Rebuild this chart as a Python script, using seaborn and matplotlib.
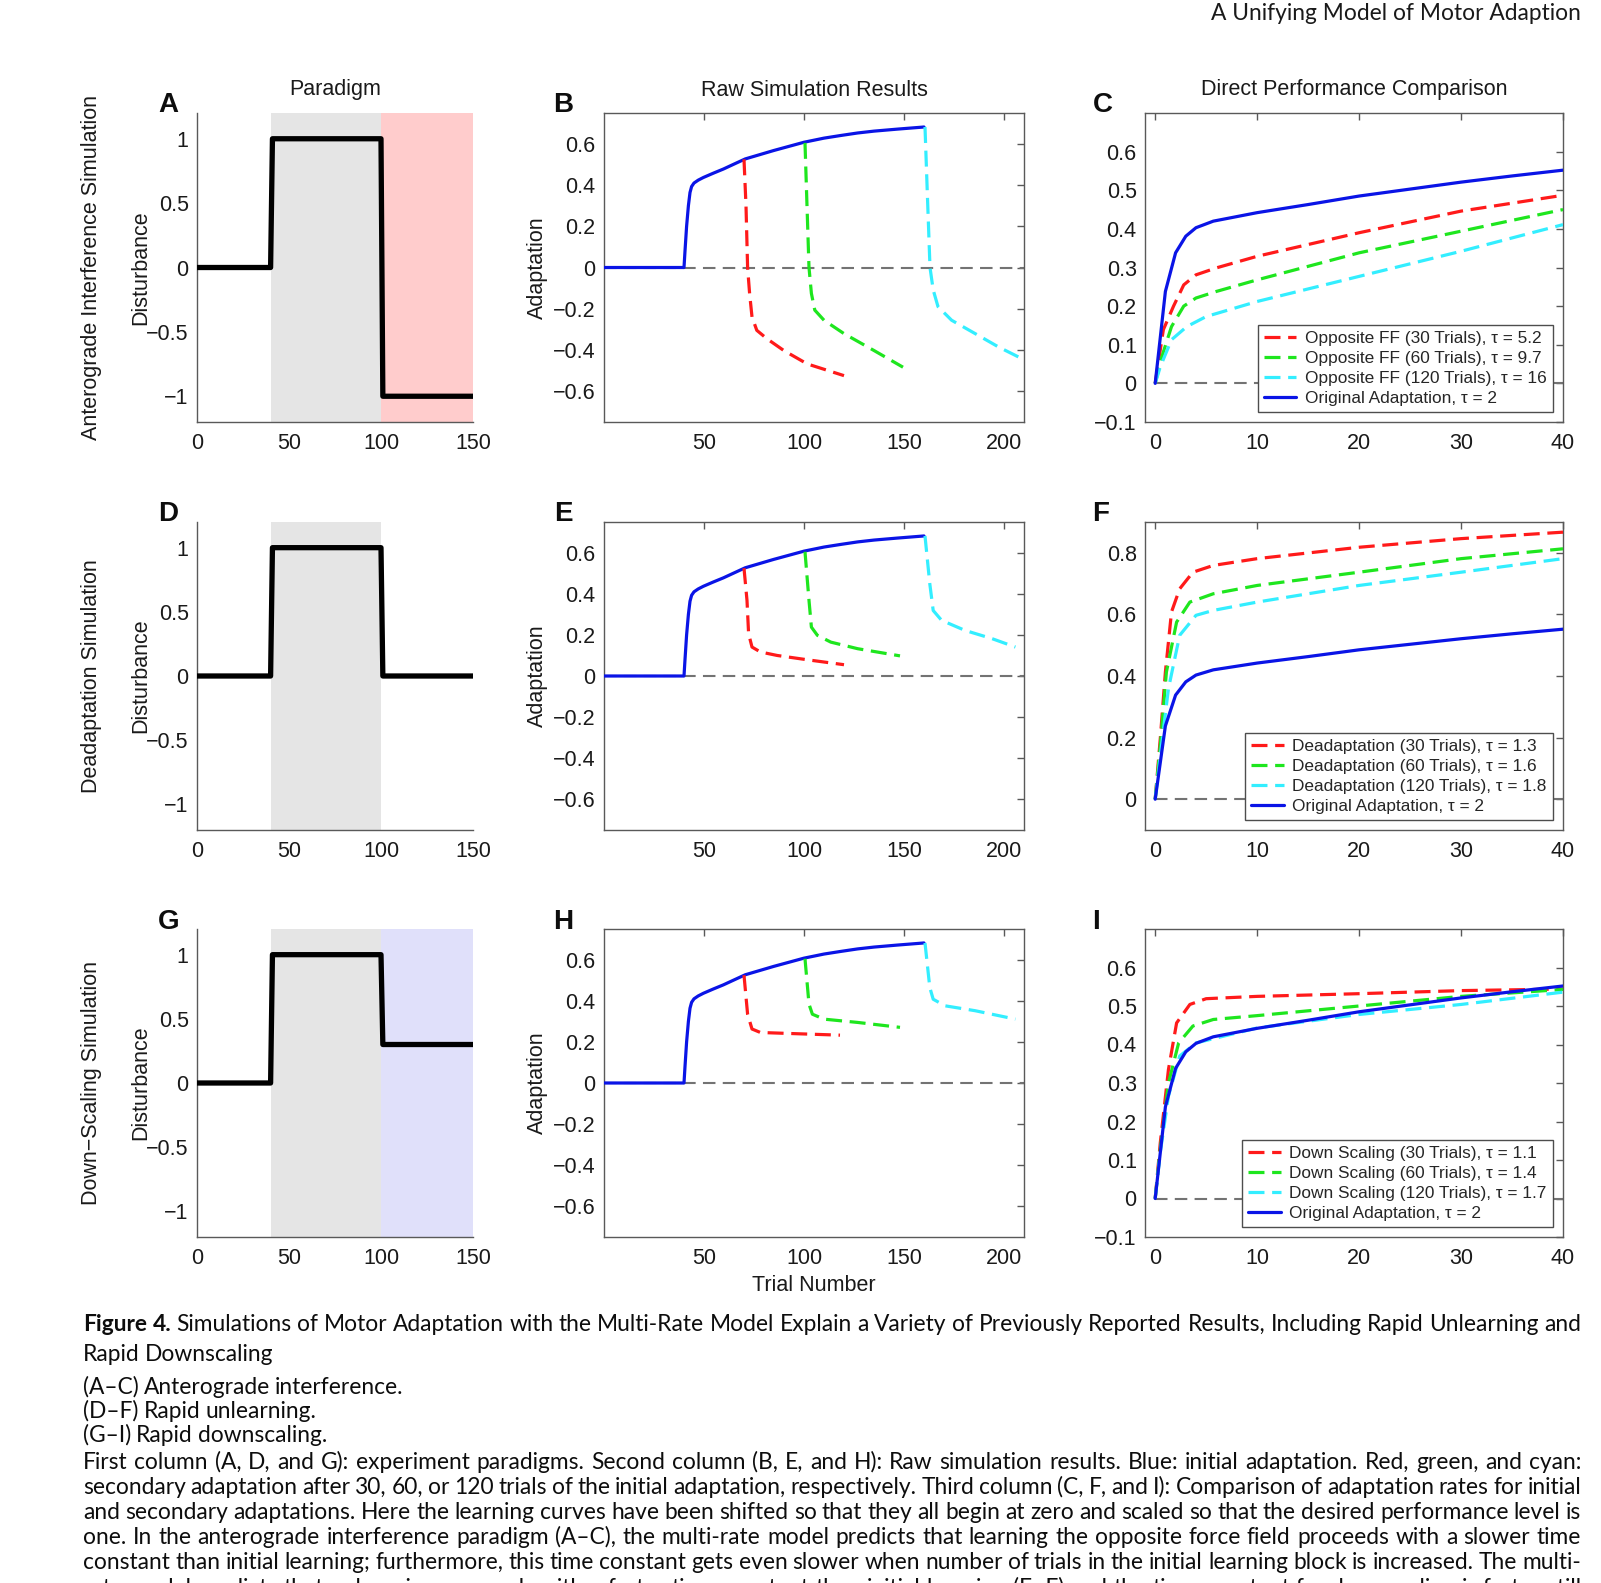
import matplotlib
matplotlib.use("Agg")
import matplotlib.pyplot as plt
import seaborn as sns

# ---- paradigm (column 1): trial vs disturbance ----
para_x = [0, 40, 41, 100, 101, 150]
para_ff = [0, 0, 1, 1, -1, -1]
para_dead = [0, 0, 1, 1, 0, 0]
para_down = [0, 0, 1, 1, 0.3, 0.3]

# ---- raw simulation (column 2) ----
raw_x = [0, 40, 40.5, 41.3, 42.2, 43, 43.8, 45, 47.1, 49.7, 54.7, 59.7, 64.8, 70.6, 84.9,
         100, 110, 118.5, 126.8, 135, 147, 160]
raw_y = [0, 0, 0.08, 0.2, 0.3, 0.364, 0.393, 0.41, 0.424, 0.437, 0.458, 0.478, 0.501, 0.527, 0.568,
         0.608, 0.628, 0.641, 0.653, 0.662, 0.672, 0.682]

ff_red_x = [70, 71, 71.8, 72.8, 74, 76.4, 81.5, 89.9, 101.6, 120]
ff_red_y = [0.525, 0.3, 0, -0.126, -0.24, -0.305, -0.346, -0.403, -0.468, -0.525]
ff_green_x = [100.5, 101.5, 102.5, 103.7, 105.4, 110, 120, 135, 149.5]
ff_green_y = [0.605, 0.3, 0, -0.126, -0.207, -0.256, -0.321, -0.403, -0.484]
ff_cyan_x = [160.5, 161.7, 163, 164.6, 167, 173.8, 185.6, 197.3, 207.4]
ff_cyan_y = [0.682, 0.35, 0, -0.109, -0.19, -0.256, -0.321, -0.386, -0.435]

dead_red_x = [70, 71.5, 72.3, 74, 78.2, 86.6, 101.7, 120]
dead_red_y = [0.525, 0.368, 0.206, 0.141, 0.117, 0.1, 0.079, 0.055]
dead_green_x = [100.5, 102.5, 103.7, 106.7, 113.4, 126.8, 148]
dead_green_y = [0.605, 0.368, 0.238, 0.198, 0.165, 0.133, 0.098]
dead_cyan_x = [160.5, 162.9, 164.6, 168.8, 180.5, 194, 205.7]
dead_cyan_y = [0.682, 0.449, 0.319, 0.271, 0.222, 0.182, 0.141]

down_red_x = [70, 71.8, 74, 78.2, 93.3, 118]
down_red_y = [0.525, 0.335, 0.263, 0.246, 0.241, 0.233]
down_green_x = [100.5, 102.5, 104.2, 110, 126.8, 148]
down_green_y = [0.605, 0.384, 0.335, 0.311, 0.295, 0.271]
down_cyan_x = [160.5, 162.9, 164.6, 170.5, 185.6, 205.7]
down_cyan_y = [0.682, 0.465, 0.408, 0.376, 0.352, 0.311]

# ---- direct comparison (column 3) ----
orig_x = [0, 1, 2, 3, 4, 5.7, 10, 15, 20, 25, 30, 35, 40]
orig_y = [0, 0.238, 0.338, 0.381, 0.403, 0.42, 0.442, 0.463, 0.485, 0.503, 0.521, 0.537, 0.552]

cmp_ff_red_x = [0, 0.8, 1.8, 2.8, 4, 6, 10, 20, 30, 40]
cmp_ff_red_y = [0, 0.139, 0.2, 0.255, 0.281, 0.299, 0.329, 0.39, 0.446, 0.487]
cmp_ff_green_x = [0, 0.65, 1.6, 2.8, 4, 6, 10, 20, 30, 40]
cmp_ff_green_y = [0, 0.069, 0.147, 0.2, 0.221, 0.238, 0.268, 0.338, 0.394, 0.45]
cmp_ff_cyan_x = [0, 0.5, 1.6, 3.1, 5, 10, 20, 30, 40]
cmp_ff_cyan_y = [0, 0.043, 0.113, 0.147, 0.173, 0.212, 0.277, 0.342, 0.411]

cmp_dead_red_x = [0, 0.5, 1, 1.6, 2.4, 3.7, 5.7, 10, 20, 30, 40]
cmp_dead_red_y = [0, 0.197, 0.413, 0.608, 0.683, 0.737, 0.759, 0.781, 0.818, 0.846, 0.867]
cmp_dead_green_x = [0, 0.5, 1.1, 2.1, 3.4, 5.7, 10, 20, 30, 40]
cmp_dead_green_y = [0, 0.175, 0.413, 0.575, 0.64, 0.667, 0.694, 0.737, 0.781, 0.813]
cmp_dead_cyan_x = [0, 0.5, 1.3, 2.4, 4, 5.7, 10, 20, 30, 40]
cmp_dead_cyan_y = [0, 0.143, 0.359, 0.532, 0.597, 0.613, 0.64, 0.694, 0.737, 0.781]

cmp_down_red_x = [0, 0.5, 1.3, 2.1, 3.4, 5, 10, 20, 30, 40]
cmp_down_red_y = [0, 0.145, 0.335, 0.456, 0.504, 0.519, 0.525, 0.532, 0.54, 0.544]
cmp_down_green_x = [0, 0.5, 1.3, 2.3, 3.7, 5.7, 10, 20, 30, 40]
cmp_down_green_y = [0, 0.128, 0.3, 0.404, 0.448, 0.465, 0.475, 0.5, 0.525, 0.543]
cmp_down_cyan_x = [0, 0.5, 1.3, 2.4, 4, 10, 20, 30, 40]
cmp_down_cyan_y = [0, 0.12, 0.266, 0.37, 0.404, 0.443, 0.478, 0.504, 0.536]

ff_labels = ["Opposite FF (30 Trials), \u03c4 = 5.2", "Opposite FF (60 Trials), \u03c4 = 9.7",
             "Opposite FF (120 Trials), \u03c4 = 16", "Original Adaptation, \u03c4 = 2"]
dead_labels = ["Deadaptation (30 Trials), \u03c4 = 1.3", "Deadaptation (60 Trials), \u03c4 = 1.6",
               "Deadaptation (120 Trials), \u03c4 = 1.8", "Original Adaptation, \u03c4 = 2"]
down_labels = ["Down Scaling (30 Trials), \u03c4 = 1.1", "Down Scaling (60 Trials), \u03c4 = 1.4",
               "Down Scaling (120 Trials), \u03c4 = 1.7", "Original Adaptation, \u03c4 = 2"]

row_titles = ["Anterograde Interference Simulation", "Deadaptation Simulation", "Down\u2212Scaling Simulation"]
col_titles = ["Paradigm", "Raw Simulation Results", "Direct Performance Comparison"]
letters = ["A", "B", "C", "D", "E", "F", "G", "H", "I"]

caption_lines = [
    "Simulations of Motor Adaptation with the Multi-Rate Model Explain a Variety of Previously Reported Results, Including Rapid Unlearning and",
    "Rapid Downscaling",
    "(A\u2013C) Anterograde interference.",
    "(D\u2013F) Rapid unlearning.",
    "(G\u2013I) Rapid downscaling.",
    "First column (A, D, and G): experiment paradigms. Second column (B, E, and H): Raw simulation results. Blue: initial adaptation. Red, green, and cyan:",
    "secondary adaptation after 30, 60, or 120 trials of the initial adaptation, respectively. Third column (C, F, and I): Comparison of adaptation rates for initial",
    "and secondary adaptations. Here the learning curves have been shifted so that they all begin at zero and scaled so that the desired performance level is",
    "one. In the anterograde interference paradigm (A\u2013C), the multi-rate model predicts that learning the opposite force field proceeds with a slower time",
    "constant than initial learning; furthermore, this time constant gets even slower when number of trials in the initial learning block is increased. The multi-",
    "rate model predicts that unlearning proceeds with a faster time constant than initial learning (E\u2013F) and the time constant for downscaling is faster still",
]
caption_y = [1324, 1354, 1387, 1411, 1435, 1462, 1487, 1512, 1537, 1562, 1588]
caption_justify = [True, False, False, False, False, True, True, True, True, True, True]

sns.set_theme(style="white")
plt.rcParams["font.family"] = ["Liberation Sans", "DejaVu Sans"]

W, H = 1601, 1583
fig = plt.figure(figsize=(W / 100, H / 100), dpi=100)
fig.patch.set_facecolor("white")

cols = [(197, 473), (604, 1024), (1145, 1563)]
rows = [(113, 422), (522, 830), (929, 1237)]
FS = 15.5


def make_ax(c, r):
    x0, x1 = cols[c]
    y0, y1 = rows[r]
    return fig.add_axes([x0 / W, 1 - y1 / H, (x1 - x0) / W, (y1 - y0) / H])


RED, GREEN, CYAN, BLUE = "#ff1a1a", "#1ee61e", "#33eeff", "#0a14e6"
DASH = (5, 2.4)


def line(ax, x, y, color, lw=2.3, dashes=None, z=3):
    sns.lineplot(x=x, y=y, ax=ax, color=color, lw=lw, estimator=None, sort=False, zorder=z)
    ln = ax.lines[-1]
    if dashes:
        ln.set_dashes(dashes)
    ln.set_solid_joinstyle("round")
    return ln


def fmt(v):
    s = ("%g" % v)
    return s.replace("-", "\u2212")


def box_style(ax):
    for sp in ax.spines.values():
        sp.set_visible(True)
        sp.set_color("0.35")
        sp.set_linewidth(1.0)
    ax.tick_params(direction="in", top=True, right=True, length=5, width=1, color="0.35",
                   labelsize=FS, labelcolor="0.1", pad=6)
    ax.tick_params(axis="x", pad=8)


# ---- column 1 ----
paradigms = [para_ff, para_dead, para_down]
shade2 = ["#ffcccc", None, "#e0e0fa"]
for r in range(3):
    ax = make_ax(0, r)
    ax.set_facecolor("white")
    ax.axvspan(40, 100, color="#e5e5e5", lw=0, zorder=0)
    if shade2[r]:
        ax.axvspan(100, 150, color=shade2[r], lw=0, zorder=0)
    line(ax, para_x, paradigms[r], "black", lw=3.8)
    ax.set_xlim(0, 150)
    ax.set_ylim(-1.2, 1.2)
    ax.set_xticks([0, 50, 100, 150])
    ax.set_yticks([-1, -0.5, 0, 0.5, 1])
    ax.set_yticklabels([fmt(v) for v in [-1, -0.5, 0, 0.5, 1]])
    for s in ["top", "right"]:
        ax.spines[s].set_visible(False)
    for s in ["left", "bottom"]:
        ax.spines[s].set_color("0.35")
        ax.spines[s].set_linewidth(1.0)
    ax.tick_params(direction="in", length=4, width=1, color="0.35", labelsize=FS,
                   labelcolor="0.1", pad=6)
    ax.tick_params(axis="x", pad=8)
    ax.set_ylabel("Disturbance", fontsize=FS, color="0.1")
    ax.yaxis.set_label_coords(-0.165, 0.5)

# ---- column 2 ----
raw_sets = [
    (ff_red_x, ff_red_y, ff_green_x, ff_green_y, ff_cyan_x, ff_cyan_y),
    (dead_red_x, dead_red_y, dead_green_x, dead_green_y, dead_cyan_x, dead_cyan_y),
    (down_red_x, down_red_y, down_green_x, down_green_y, down_cyan_x, down_cyan_y),
]
for r in range(3):
    ax = make_ax(1, r)
    rx, ry, gx, gy, cx, cy = raw_sets[r]
    line(ax, [0, 210], [0, 0], "0.45", lw=1.5, dashes=(6, 3.5), z=1)
    line(ax, raw_x, raw_y, BLUE, z=3)
    line(ax, rx, ry, RED, dashes=DASH, z=4)
    line(ax, gx, gy, GREEN, dashes=DASH, z=4)
    line(ax, cx, cy, CYAN, dashes=DASH, z=4)
    ax.set_xlim(0, 210)
    ax.set_ylim(-0.75, 0.75)
    ax.set_xticks([50, 100, 150, 200])
    yt = [-0.6, -0.4, -0.2, 0, 0.2, 0.4, 0.6]
    ax.set_yticks(yt)
    ax.set_yticklabels([fmt(v) for v in yt])
    box_style(ax)
    ax.set_ylabel("Adaptation", fontsize=FS, color="0.1")
    ax.yaxis.set_label_coords(-0.133, 0.5)
    if r == 2:
        ax.set_xlabel("Trial Number", fontsize=FS, color="0.1", labelpad=4)

# ---- column 3 ----
cmp_sets = [
    (cmp_ff_red_x, cmp_ff_red_y, cmp_ff_green_x, cmp_ff_green_y, cmp_ff_cyan_x, cmp_ff_cyan_y),
    (cmp_dead_red_x, cmp_dead_red_y, cmp_dead_green_x, cmp_dead_green_y, cmp_dead_cyan_x, cmp_dead_cyan_y),
    (cmp_down_red_x, cmp_down_red_y, cmp_down_green_x, cmp_down_green_y, cmp_down_cyan_x, cmp_down_cyan_y),
]
all_labels = [ff_labels, dead_labels, down_labels]
for r in range(3):
    ax = make_ax(2, r)
    rx, ry, gx, gy, cx, cy = cmp_sets[r]
    line(ax, [0, 40], [0, 0], "0.45", lw=1.5, dashes=(6, 3.5), z=1)
    h1 = line(ax, rx, ry, RED, dashes=DASH, z=4)
    h2 = line(ax, gx, gy, GREEN, dashes=DASH, z=4)
    h3 = line(ax, cx, cy, CYAN, dashes=DASH, z=4)
    hb = line(ax, orig_x, orig_y, BLUE, z=5)
    ax.set_xlim(-1, 40)
    ax.set_xticks([0, 10, 20, 30, 40])
    if r == 1:
        ax.set_ylim(-0.1, 0.9)
        yt = [0, 0.2, 0.4, 0.6, 0.8]
    else:
        ax.set_ylim(-0.1, 0.7)
        yt = [-0.1, 0, 0.1, 0.2, 0.3, 0.4, 0.5, 0.6]
    ax.set_yticks(yt)
    ax.set_yticklabels([fmt(v) for v in yt])
    box_style(ax)
    leg = ax.legend([h1, h2, h3, hb], all_labels[r], loc="lower right", fontsize=12.4,
                    frameon=True, fancybox=False, framealpha=1, edgecolor="0.3",
                    handlelength=1.9, handletextpad=0.5, labelspacing=0.28,
                    borderaxespad=0.6, borderpad=0.35)
    leg.get_frame().set_linewidth(1.0)
    leg.set_zorder(10)

# ---- figure texts ----
for c, t in enumerate(col_titles):
    x0, x1 = cols[c]
    fig.text((x0 + x1) / 2 / W, 1 - 90 / H, t, ha="center", va="center", fontsize=FS, color="0.1")

letter_pos = [(168, 105), (563, 105), (1103, 105), (168, 514), (563, 514), (1101, 514),
              (169, 922), (563, 922), (1096, 922)]
for lab, (x, y) in zip(letters, letter_pos):
    fig.text(x / W, 1 - y / H, lab, ha="center", va="center", fontsize=20, fontweight="bold",
             color="0.05")

for r, t in enumerate(row_titles):
    y0, y1 = rows[r]
    fig.text(91 / W, 1 - ((y0 + y1) / 2) / H, t, rotation=90, ha="center", va="center",
             fontsize=FS, color="0.1")

cap_font = ["Lato", "DejaVu Sans"]
cap_fs = 16.4
fig.text(1581 / W, 1 - 13 / H, "A Unifying Model of Motor Adaption", ha="right", va="center",
         fontsize=cap_fs, family=cap_font, color="0.1")

renderer = fig.canvas.get_renderer()
X0, X1 = 83, 1581


def put_line(text, y_px, justify, bold_prefix=None):
    words = text.split(" ")
    weights = ["normal"] * len(words)
    if bold_prefix:
        words = bold_prefix.split(" ") + words
        weights = ["bold"] * len(bold_prefix.split(" ")) + weights
    base = y_px + 7
    objs = [fig.text(0, 1 - base / H, w, ha="left", va="baseline", fontsize=cap_fs,
                     family=cap_font, fontweight=wt, color="0.05")
            for w, wt in zip(words, weights)]
    widths = [o.get_window_extent(renderer).width for o in objs]
    if justify and len(words) > 1:
        gap = (X1 - X0 - sum(widths)) / (len(words) - 1)
    else:
        gap = cap_fs * 1.39 * 0.22
    x = X0
    for o, w in zip(objs, widths):
        o.set_x(x / W)
        x += w + gap


for i, (t, y, j) in enumerate(zip(caption_lines, caption_y, caption_justify)):
    put_line(t, y, j, bold_prefix="Figure 4." if i == 0 else None)

fig.savefig("out.png", dpi=100, facecolor="white")
